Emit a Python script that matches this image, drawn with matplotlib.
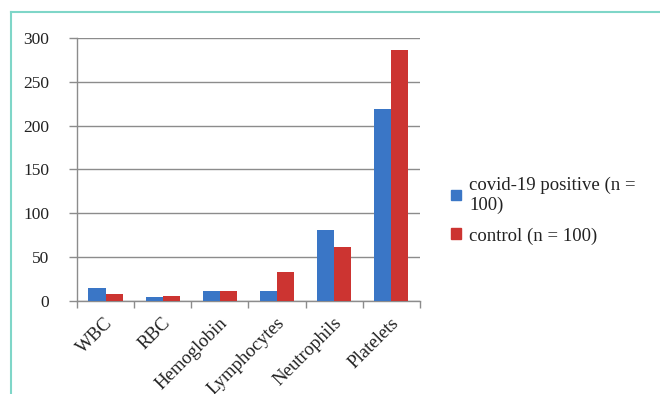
import matplotlib
matplotlib.use("Agg")
import matplotlib.pyplot as plt
import numpy as np
from matplotlib.lines import Line2D
from matplotlib.patches import Patch

categories = ["WBC", "RBC", "Hemoglobin", "Lymphocytes", "Neutrophils", "Platelets"]
covid = [14, 4, 11, 11, 81, 219]
control = [8, 5, 11, 33, 61, 286]
series_names = ["covid-19 positive (n =\n100)", "control (n = 100)"]
yticks = [0, 50, 100, 150, 200, 250, 300]

plt.rcParams['font.family'] = ['Liberation Serif', 'DejaVu Serif']

fig = plt.figure(figsize=(6.6, 3.94), dpi=100)
ax = fig.add_axes([0.1167, 0.237, 0.5195, 0.6666])

x = np.arange(len(categories))
w = 0.3
blue = '#3a76c6'
red = '#cc3431'
ax.bar(x - w/2, covid, width=w, color=blue, zorder=3)
ax.bar(x + w/2, control, width=w, color=red, zorder=3)

ax.set_xlim(-0.5, len(categories) - 0.5)
ax.set_ylim(0, 300)
ax.set_yticks(yticks)
ax.set_yticklabels([str(v) for v in yticks], fontsize=12.5, color='#222222')
ax.yaxis.grid(True, color='#8c8c8c', linewidth=1.0, zorder=0)
ax.set_axisbelow(True)

ax.set_xticks(x - 0.02)
ax.set_xticklabels(categories, rotation=45, ha='right', rotation_mode='anchor',
                   fontsize=13.5, color='#222222')
ax.tick_params(axis='x', length=0, pad=10)
ax.set_xticks(np.arange(-0.5, len(categories)), minor=True)
ax.tick_params(axis='x', which='minor', length=5, color='#8c8c8c', width=1)
ax.tick_params(axis='y', length=6, color='#8c8c8c', width=1, pad=14)

for s in ['top', 'right']:
    ax.spines[s].set_visible(False)
for s in ['left', 'bottom']:
    ax.spines[s].set_color('#8c8c8c')
    ax.spines[s].set_linewidth(1.0)

handles = [Patch(color=blue), Patch(color=red)]
fig.legend(handles, series_names, loc='upper left', bbox_to_anchor=(0.658, 0.595),
           frameon=False, fontsize=13.5, handlelength=0.5, handleheight=0.5,
           handletextpad=0.45, labelspacing=0.72, labelcolor='#222222')

# teal frame
fig.add_artist(Line2D([11/660, 11/660], [0, 1 - 12/394], transform=fig.transFigure,
                      color='#7fd6c8', linewidth=1.5))
fig.add_artist(Line2D([11/660, 1], [1 - 12/394, 1 - 12/394], transform=fig.transFigure,
                      color='#7fd6c8', linewidth=1.5))

fig.savefig("out.png", dpi=100)
